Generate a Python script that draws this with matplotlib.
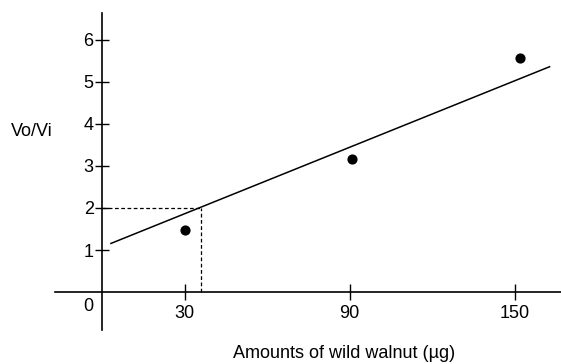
import matplotlib.pyplot as plt

plt.rcParams['font.family'] = ['Liberation Sans', 'DejaVu Sans']

# Measured points (amount of wild walnut vs Vo/Vi)
amounts = [30, 91, 152]
ratios = [1.47, 3.17, 5.56]

# Fitted line at its two ends
fit_x = [3, 163]
fit_y = [1.15, 5.37]

# Read-off at Vo/Vi = 2
read_x = 36
read_y = 2

x_ticks = [30, 90, 150]
y_ticks = [1, 2, 3, 4, 5, 6]

fig = plt.figure(figsize=(5.61, 3.64), dpi=100)
ax = fig.add_axes([0, 0, 1, 1])
ax.set_xlim(-37.09, 166.9)
ax.set_ylim(-1.714, 6.952)

# Axes drawn through the origin
for side in ['top', 'right']:
    ax.spines[side].set_visible(False)
ax.spines['left'].set_position(('data', 0))
ax.spines['bottom'].set_position(('data', 0))
ax.spines['left'].set_bounds(-0.9, 6.64)
ax.spines['bottom'].set_bounds(-17, 166.9)
for side in ['left', 'bottom']:
    ax.spines[side].set_linewidth(1.2)

ax.set_xticks(x_ticks)
ax.set_yticks(y_ticks)
ax.tick_params(axis='y', direction='inout', length=10, width=1.0, labelsize=13, pad=1)
ax.tick_params(axis='x', direction='inout', length=11, width=1.0, labelsize=13, pad=4)

ax.plot(fit_x, fit_y, color='black', lw=1.1, solid_capstyle='butt')
ax.scatter(amounts, ratios, s=40, color='black', zorder=3)

# Dashed read-off lines
ax.plot([0, read_x], [read_y, read_y], color='black', lw=0.9, ls=(0, (3, 2)))
ax.plot([read_x, read_x], [0, read_y], color='black', lw=0.9, ls=(0, (3, 2)))

ax.text(-4.8, -0.35, '0', fontsize=13, ha='center', va='center')
ax.text(-25.6, 3.83, 'Vo/Vi', fontsize=13, ha='center', va='center')
ax.text(88, -1.47, 'Amounts of wild walnut (\u00b5g)', fontsize=13, ha='center', va='center')

fig.savefig('out.png', dpi=100)
